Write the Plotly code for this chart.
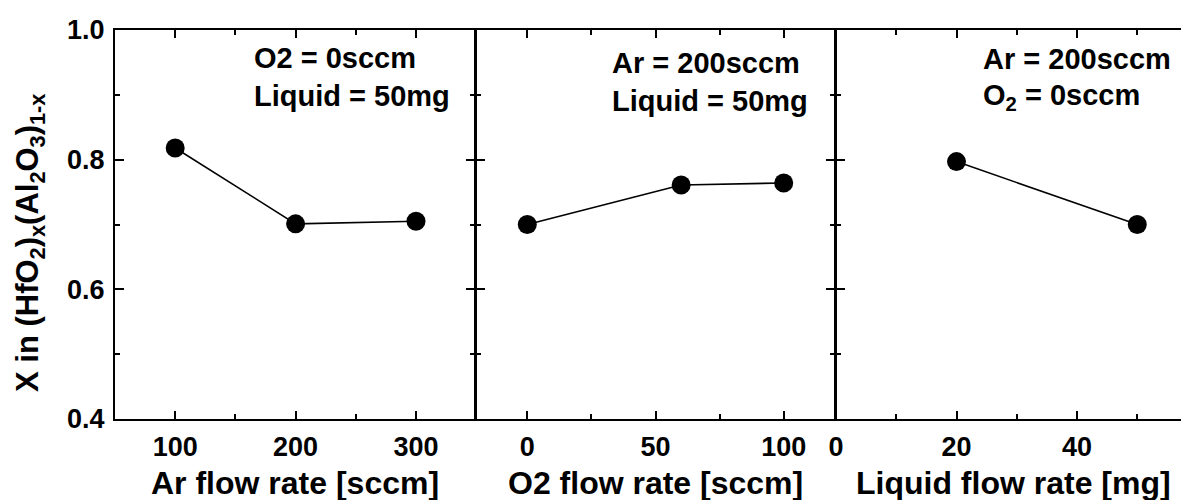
import plotly.graph_objects as go

# ---- data -------------------------------------------------------------
ar_flow = [100, 200, 300]          # sccm
x_vs_ar = [0.818, 0.701, 0.705]

o2_flow = [0, 60, 100]             # sccm
x_vs_o2 = [0.700, 0.761, 0.764]

liquid_flow = [20, 50]             # mg
x_vs_liquid = [0.797, 0.700]

y_ticks = [0.4, 0.6, 0.8, 1.0]
y_tick_text = ["0.4", "0.6", "0.8", "1.0"]

panel_titles = ["Ar flow rate [sccm]", "O2 flow rate [sccm]", "Liquid flow rate [mg]"]
panel_notes = [
    ["O2 = 0sccm", "Liquid = 50mg"],
    ["Ar = 200sccm", "Liquid = 50mg"],
    ["Ar = 200sccm", "O<sub>2</sub> = 0sccm"],
]

# ---- layout geometry (pixels) -------------------------------------------
W, H = 1181, 500
top_px, bottom_px = 30, 419
panels_px = [(115, 475), (476, 835), (836, 1181)]
x_ranges = [[50, 349], [-20, 120], [0, 57.26]]
x_dticks = [100, 50, 20]


def fx(px):
    return px / W


def fy(py):
    return 1 - py / H


FONT = "Arial, 'Liberation Sans', sans-serif"
BLACK = "black"

fig = go.Figure()

series = [(ar_flow, x_vs_ar), (o2_flow, x_vs_o2), (liquid_flow, x_vs_liquid)]
for i, (xs, ys) in enumerate(series):
    suffix = "" if i == 0 else str(i + 1)
    fig.add_trace(go.Scatter(
        x=xs, y=ys, mode="lines+markers",
        line=dict(color=BLACK, width=1.6),
        marker=dict(color=BLACK, size=19, symbol="circle"),
        xaxis="x" + suffix, yaxis="y" + suffix,
        showlegend=False, cliponaxis=False,
    ))

layout = dict(
    width=W, height=H, autosize=False,
    margin=dict(l=0, r=0, t=0, b=0, pad=0),
    paper_bgcolor="white", plot_bgcolor="white",
    font=dict(family=FONT, color=BLACK, size=27, weight="bold"),
    showlegend=False,
)

y_domain = [fy(bottom_px), fy(top_px)]
for i, (left, right) in enumerate(panels_px):
    suffix = "" if i == 0 else str(i + 1)
    layout["xaxis" + suffix] = dict(
        domain=[fx(left), fx(right)],
        range=x_ranges[i], dtick=x_dticks[i], tick0=0,
        anchor="y" + suffix, automargin=False,
        showgrid=False, zeroline=False,
        showline=True, linecolor=BLACK, linewidth=2, mirror="ticks",
        ticks="inside", ticklen=8, tickwidth=2, tickcolor=BLACK,
        minor=dict(dtick=x_dticks[i] / 2, tick0=0, ticks="inside",
                   ticklen=5, tickwidth=2, tickcolor=BLACK),
        tickfont=dict(family=FONT, size=27, color=BLACK, weight="bold"),
        ticklabelstandoff=3,
        fixedrange=True,
    )
    layout["yaxis" + suffix] = dict(
        domain=y_domain, range=[0.4, 1.0],
        anchor="x" + suffix, automargin=False,
        tickvals=y_ticks, ticktext=y_tick_text,
        showticklabels=(i == 0),
        showgrid=False, zeroline=False,
        showline=True, linecolor=BLACK, linewidth=2,
        mirror="ticks" if i < 2 else False,
        ticks="inside", ticklen=9, tickwidth=2, tickcolor=BLACK,
        minor=dict(tickvals=[0.5, 0.7, 0.9], ticks="inside",
                   ticklen=5, tickwidth=2, tickcolor=BLACK),
        tickfont=dict(family=FONT, size=27, color=BLACK, weight="bold"),
        ticklabelstandoff=3,
        fixedrange=True,
    )

annotations = []
# axis titles below each panel
for i, (left, right) in enumerate(panels_px):
    annotations.append(dict(
        text=panel_titles[i], xref="paper", yref="paper",
        x=fx((left + right) / 2 + (5 if i == 2 else 0)), y=fy(483),
        xanchor="center", yanchor="middle", showarrow=False,
        font=dict(family=FONT, size=32, color=BLACK, weight="bold"),
    ))

# conditions printed inside each panel
note_left = [252, 610, 981]
note_rows = [[58, 96], [63, 101], [59, 97]]
for i, lines in enumerate(panel_notes):
    for j, line in enumerate(lines):
        annotations.append(dict(
            text=line, xref="paper", yref="paper",
            x=fx(note_left[i]), y=fy(note_rows[i][j]),
            xanchor="left", yanchor="middle", showarrow=False,
            font=dict(family=FONT, size=29, color=BLACK, weight="bold"),
        ))

# shared y-axis title
annotations.append(dict(
    text="X in (HfO<sub>2</sub>)<sub>x</sub>(Al<sub>2</sub>O<sub>3</sub>)<sub>1-x</sub>",
    xref="paper", yref="paper", x=fx(30), y=fy(243),
    xanchor="center", yanchor="middle", textangle=-90, showarrow=False,
    font=dict(family=FONT, size=31, color=BLACK, weight="bold"),
))

layout["annotations"] = annotations
fig.update_layout(**layout)

fig.write_html("out.html")
